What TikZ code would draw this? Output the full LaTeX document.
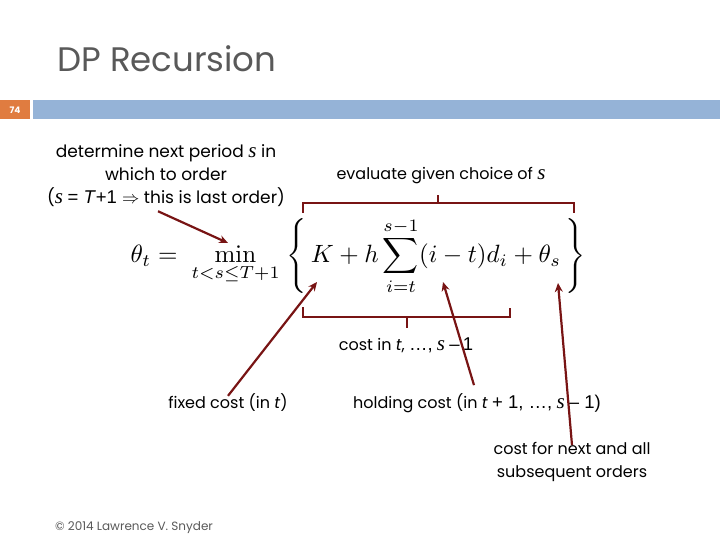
\documentclass[tikz,border=0pt]{standalone}
\usepackage[no-math]{fontspec}
\usepackage{graphicx}
\setmainfont{Poppins}
\newfontfamily\serifit{Liberation Serif}
\newfontfamily\arialf{Liberation Sans}
\usetikzlibrary{arrows.meta}
\definecolor{titlegray}{RGB}{89,89,89}
\definecolor{barorange}{RGB}{224,124,64}
\definecolor{barblue}{RGB}{149,179,215}
\definecolor{notered}{RGB}{120,20,20}
\newcommand{\sv}{{\serifit\itshape\fontsize{21}{21}\selectfont s}}
\newcommand{\ar}[1]{{\arialf\fontsize{18.5}{18.5}\selectfont #1}}
\tikzset{
  lbl/.style={font=\fontsize{16}{23}\selectfont,inner sep=0pt,align=center},
  brk/.style={notered,line width=2.2pt,line cap=butt},
  callout/.style={notered,line width=2.2pt,-{Stealth[length=9pt,width=8pt]}},
}

\begin{document}
\begin{tikzpicture}[x=1pt,y=-1pt]
  \useasboundingbox (0,0) rectangle (720,540);
  % header
  \node[font=\fontsize{34}{40}\selectfont,titlegray,anchor=base west,inner sep=0pt] (title) at (57,72) {DP Recursion};
  \fill[barorange] (0,100) rectangle (30,119);
  \fill[barblue] (33,100) rectangle (720,119);
  \node[font=\fontsize{9}{10}\selectfont\bfseries,white] (pnum) at (15,110) {74};
  % formula
  \node[inner sep=0pt] (eq) at (358,256)
    {\scalebox{2.5}{$\displaystyle \theta_t =\; \min_{t<s\leq T+1}\;\Biggl\{\,K + h\sum_{i=t}^{s-1}(i-t)d_i + \theta_s\,\Biggr\}$}};
  \draw[brk] (303,213) |- (574,203) -- (574,213);
  \draw[brk] (438,203) -- (438,195);
  \draw[brk] (303,307) |- (510,317) -- (510,308);
  \draw[brk] (407,317) -- (407,328);
  % labels
  \node[lbl,font=\fontsize{17}{23}\selectfont] (choose) at (166,176) {determine next period \sv{} in\\which to order\\(\sv{} \ar{= \textit{T}+1 $\Rightarrow$} this is last order)};
  \node[lbl] (evaluate) at (441,176) {evaluate given choice of \sv};
  \node[lbl] (costin) at (406,345) {cost in \textit{t}, \ar{\dots,} \sv{} \ar{\textendash\,1}};
  \node[lbl] (fixed) at (228,403) {fixed cost (in \textit{t})};
  \node[lbl] (holding) at (477,403) {holding cost (in \textit{t} \ar{+ 1, \dots,} \sv{} \ar{\textendash\ 1)}};
  \node[lbl] (next) at (572,462) {cost for next and all\\subsequent orders};
  \node[font=\fontsize{12}{14}\selectfont,titlegray,anchor=base west,inner sep=0pt] (copy) at (55,530) {\textcopyright{} 2014 Lawrence V. Snyder};
  % arrows
  \coordinate (minpt) at (228,243);
  \coordinate (kpt) at (317,282);
  \coordinate (sumpt) at (443,282);
  \coordinate (thetapt) at (558,283);
  \draw[callout] ([xshift=-8pt,yshift=-4pt]choose.south) -- (minpt);
  \draw[callout] ([yshift=-2pt]fixed.north) -- (kpt);
  \draw[callout] ([xshift=-3pt,yshift=8pt]holding.north) -- (sumpt);
  \draw[callout] ([yshift=-3pt]next.north) -- (thetapt);
\end{tikzpicture}
\end{document}
